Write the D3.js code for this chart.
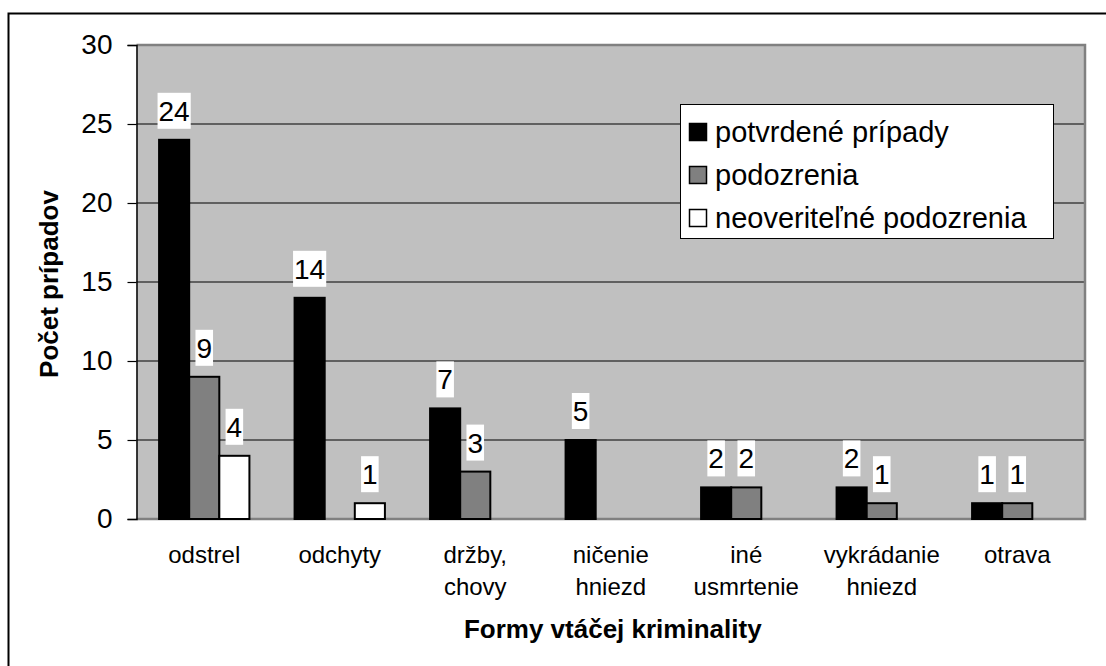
<!DOCTYPE html>
<html>
<head>
<meta charset="utf-8">
<script src="https://cdn.jsdelivr.net/npm/d3@7"></script>
<style>
  body { margin: 0; background: #fff; }
  text { font-family: "Liberation Sans", Arial, sans-serif; fill: #000; }
</style>
</head>
<body>
<div id="chart"></div>
<script>
// categories (two-line labels split on "|")
const categories = ["odstrel", "odchyty", "držby,|chovy", "ničenie|hniezd", "iné|usmrtenie", "vykrádanie|hniezd", "otrava"];
const seriesNames = ["potvrdené prípady", "podozrenia", "neoveriteľné podozrenia"];
const potvrdene = [24, 14, 7, 5, 2, 2, 1];
const podozrenia = [9, 0, 3, 0, 2, 1, 1];
const neoveritelne = [4, 1, 0, 0, 0, 0, 0];
const yTicks = [0, 5, 10, 15, 20, 25, 30];

const seriesValues = [potvrdene, podozrenia, neoveritelne];
const seriesColors = ["#000000", "#808080", "#ffffff"];

const W = 1106, H = 666;
const margin = {top: 45, right: 21, bottom: 147, left: 136.5};
const width = W - margin.left - margin.right,
      height = H - margin.top - margin.bottom;

const svg = d3.select("#chart")
  .append("svg")
    .attr("width", W)
    .attr("height", H);

// outer chart border (runs off the right / bottom edge)
svg.append("rect")
  .attr("x", 8.5).attr("y", 13.5)
  .attr("width", W + 20).attr("height", H + 20)
  .attr("fill", "#fff")
  .attr("stroke", "#000")
  .attr("stroke-width", 2);

const g = svg.append("g")
  .attr("transform", `translate(${margin.left},${margin.top})`);

const x = d3.scaleBand()
  .domain(categories)
  .range([0, width])
  .padding(0);

const y = d3.scaleLinear()
  .domain([0, 30])
  .range([height, 0]);

// bar width with excel-like gap width 150%
const bw = x.bandwidth() / 4.5;
const xs = d3.scaleBand()
  .domain(d3.range(seriesNames.length))
  .range([(x.bandwidth() - 3 * bw) / 2, (x.bandwidth() + 3 * bw) / 2]);

// plot area
g.append("rect")
  .attr("width", width)
  .attr("height", height)
  .attr("fill", "#c0c0c0");

// gridlines
g.append("g")
  .selectAll("line")
  .data(yTicks.filter(d => d > 0 && d < 30))
  .enter().append("line")
    .attr("x1", 0).attr("x2", width)
    .attr("y1", d => y(d)).attr("y2", d => y(d))
    .attr("stroke", "#000")
    .attr("stroke-width", 1);

// plot border top/right/bottom
g.append("path")
  .attr("d", `M0,0H${width}V${height}H0`)
  .attr("fill", "none")
  .attr("stroke", "#808080")
  .attr("stroke-width", 2.5);

// y axis
const yAxis = g.append("g")
  .call(d3.axisLeft(y).tickValues(yTicks).tickSize(9).tickPadding(15));
yAxis.select(".domain").attr("stroke", "#000").attr("stroke-width", 1.5);
yAxis.selectAll(".tick line").attr("stroke", "#000").attr("stroke-width", 1.2);
yAxis.selectAll(".tick text")
  .style("font-size", "28px")
  .style("font-family", "Liberation Sans, Arial, sans-serif");

// bars
const groups = g.selectAll(".cat")
  .data(categories)
  .enter().append("g")
    .attr("class", "cat")
    .attr("transform", d => `translate(${x(d)},0)`);

seriesValues.forEach((vals, si) => {
  groups.each(function(c, ci) {
    const v = vals[ci];
    if (!v) return;
    d3.select(this).append("rect")
      .attr("x", xs(si))
      .attr("y", y(v))
      .attr("width", bw)
      .attr("height", y(0) - y(v))
      .attr("fill", seriesColors[si])
      .attr("stroke", "#000")
      .attr("stroke-width", 2);
  });
});

// data labels on white boxes
seriesValues.forEach((vals, si) => {
  groups.each(function(c, ci) {
    const v = vals[ci];
    if (!v) return;
    const gg = d3.select(this);
    const cx = xs(si) + bw / 2;
    const cy = y(v) - 29;
    const t = gg.append("text")
      .attr("x", cx)
      .attr("y", cy)
      .attr("text-anchor", "middle")
      .attr("dy", "0.36em")
      .style("font-size", "28px")
      .text(v);
    const bb = t.node().getBBox();
    gg.insert("rect", "text")
      .attr("x", cx - bb.width / 2 - 1)
      .attr("y", cy - 18)
      .attr("width", bb.width + 2)
      .attr("height", 36)
      .attr("fill", "#fff");
  });
});

// category labels
groups.append("text")
  .attr("text-anchor", "middle")
  .attr("x", x.bandwidth() / 2)
  .attr("y", height + 44)
  .style("font-size", "24px")
  .selectAll("tspan")
  .data(d => d.split("|"))
  .enter().append("tspan")
    .attr("x", x.bandwidth() / 2)
    .attr("dy", (d, i) => i === 0 ? 0 : 32)
    .text(d => d);

// axis titles
g.append("text")
  .attr("x", width / 2 + 2)
  .attr("y", height + 119)
  .attr("text-anchor", "middle")
  .style("font-size", "26px")
  .style("font-weight", "bold")
  .text("Formy vtáčej kriminality");

g.append("text")
  .attr("transform", `translate(${58 - margin.left},${height / 2 + 2}) rotate(-90)`)
  .attr("text-anchor", "middle")
  .style("font-size", "26px")
  .style("font-weight", "bold")
  .text("Počet prípadov");

// legend
const legend = svg.append("g")
  .attr("transform", "translate(680,104)");
legend.append("rect")
  .attr("x", 0.5).attr("y", 0.5)
  .attr("width", 373).attr("height", 134)
  .attr("fill", "#fff")
  .attr("stroke", "#000")
  .attr("stroke-width", 1);

const items = legend.selectAll(".item")
  .data(seriesNames)
  .enter().append("g")
    .attr("class", "item")
    .attr("transform", (d, i) => `translate(0,${28 + i * 43})`);
items.append("rect")
  .attr("x", 9.5).attr("y", -8.5)
  .attr("width", 17).attr("height", 17)
  .attr("fill", (d, i) => seriesColors[i])
  .attr("stroke", "#000")
  .attr("stroke-width", 1.5);
items.append("text")
  .attr("x", 35)
  .attr("dy", "0.36em")
  .style("font-size", "29px")
  .text(d => d);
</script>
</body>
</html>
